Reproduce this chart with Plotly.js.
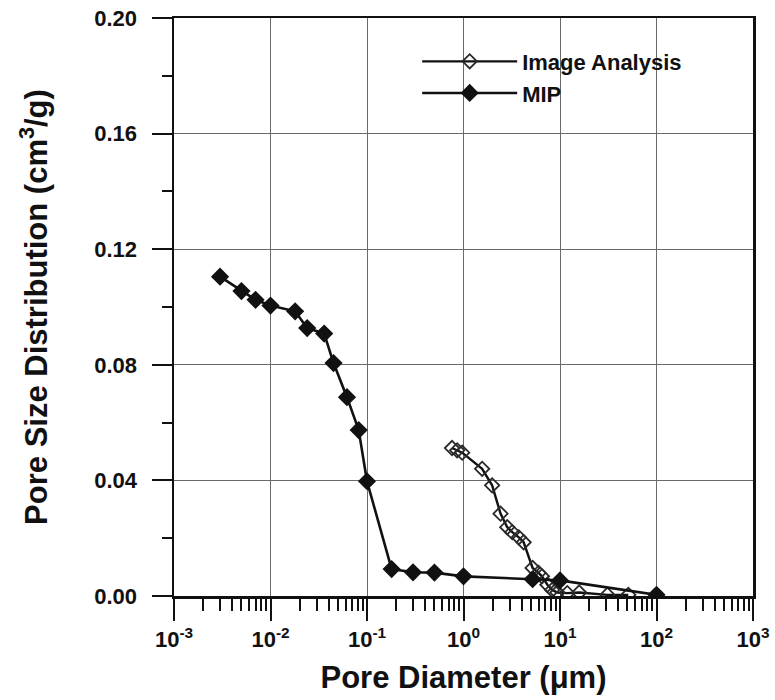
<!DOCTYPE html>
<html>
<head>
<meta charset="utf-8">
<script src="https://cdn.plot.ly/plotly-3.0.1.min.js"></script>
<style>
  html, body { margin: 0; padding: 0; background: #fff; }
  #chart { width: 775px; height: 700px; }
</style>
</head>
<body>
<div id="chart"></div>
<script>
// Pore size distribution: image analysis vs. mercury intrusion porosimetry (MIP)
const imageDiameter = [0.76, 0.86, 0.97, 1.56, 1.98, 2.42, 2.84, 3.2, 3.74, 4.2, 5.2, 6.0, 6.5, 7.4, 8.3, 9.4, 11.9, 15.8, 31, 51];
const imagePSD      = [0.0512, 0.0504, 0.0496, 0.0440, 0.0383, 0.0285, 0.0238, 0.0221, 0.0203, 0.0186, 0.0097, 0.0080, 0.0068, 0.0039, 0.0021, 0.0012, 0.0010, 0.0012, 0.0004, 0.0004];

const mipDiameter = [0.003, 0.005, 0.007, 0.010, 0.018, 0.024, 0.036, 0.045, 0.062, 0.082, 0.10, 0.18, 0.30, 0.50, 1.0, 5.2, 10, 100];
const mipPSD      = [0.1105, 0.1055, 0.1025, 0.1005, 0.0985, 0.0927, 0.0908, 0.0806, 0.0688, 0.0574, 0.0397, 0.0093, 0.0082, 0.0081, 0.0068, 0.0058, 0.0054, 0.0004];

const decadeVals   = [0.001, 0.01, 0.1, 1, 10, 100, 1000];
const decadeLabels = ['10<sup>-3</sup>', '10<sup>-2</sup>', '10<sup>-1</sup>', '10<sup>0</sup>', '10<sup>1</sup>', '10<sup>2</sup>', '10<sup>3</sup>'];

const seriesNames = ['Image Analysis', 'MIP'];

// minor log ticks at 2..9 within each decade
const minorVals = [];
decadeVals.slice(0, -1).forEach(d => {
  for (let k = 2; k <= 9; k++) minorVals.push(d * k);
});

const FONT = 'Liberation Sans, Arial, Helvetica, sans-serif';
const INK = '#111111';

const traces = [
  {
    x: imageDiameter, y: imagePSD, name: seriesNames[0],
    type: 'scatter', mode: 'lines+markers',
    line: { color: INK, width: 2.4 },
    marker: { symbol: 'diamond-open', size: 11, color: '#2a2a2a', line: { width: 1.8, color: '#2a2a2a' } }
  },
  {
    x: mipDiameter, y: mipPSD, name: seriesNames[1],
    type: 'scatter', mode: 'lines+markers',
    line: { color: INK, width: 2.6 },
    marker: { symbol: 'diamond', size: 14, color: INK, line: { width: 0 } }
  }
];

const layout = {
  width: 775, height: 700,
  margin: { l: 174, r: 22, t: 18, b: 104 },
  paper_bgcolor: '#ffffff', plot_bgcolor: '#ffffff',
  font: { family: FONT, color: INK, weight: 'bold' },
  showlegend: true,
  legend: {
    x: 0.42, y: 0.961, xanchor: 'left', yanchor: 'top',
    bgcolor: 'rgba(255,255,255,0)', borderwidth: 0,
    itemwidth: 95, tracegroupgap: 0,
    font: { family: FONT, size: 22, color: INK, weight: 'bold' }
  },
  xaxis: {
    type: 'log', range: [-3, 3],
    tickmode: 'array', tickvals: decadeVals, ticktext: decadeLabels,
    ticks: 'outside', ticklen: 22, tickwidth: 2, tickcolor: INK,
    minor: { tickmode: 'array', tickvals: minorVals, ticks: 'outside', ticklen: 12, tickwidth: 2, tickcolor: INK, showgrid: false },
    tickfont: { family: FONT, size: 22, color: INK, weight: 'bold' },
    showgrid: true, gridcolor: '#6a6a6a', gridwidth: 1,
    showline: true, linecolor: INK, linewidth: 2.5, mirror: true,
    zeroline: false,
    title: { text: 'Pore Diameter (\u03bcm)', standoff: 16, font: { family: FONT, size: 31, color: INK, weight: 'bold' } }
  },
  yaxis: {
    range: [0, 0.2], dtick: 0.04, tick0: 0, tickformat: '.2f',
    ticks: 'outside', ticklen: 20, tickwidth: 2, tickcolor: INK,
    ticklabelstandoff: 10,
    minor: { dtick: 0.02, ticks: 'outside', ticklen: 10, tickwidth: 2, tickcolor: INK, showgrid: false },
    tickfont: { family: FONT, size: 22, color: INK, weight: 'bold' },
    showgrid: true, gridcolor: '#6a6a6a', gridwidth: 1,
    showline: true, linecolor: INK, linewidth: 2.5, mirror: true,
    zeroline: false,
    title: { text: 'Pore Size Distribution (cm<sup>3</sup>/g)', standoff: 38, font: { family: FONT, size: 31, color: INK, weight: 'bold' } }
  }
};

Plotly.newPlot('chart', traces, layout, { staticPlot: true, displayModeBar: false });
</script>
</body>
</html>
